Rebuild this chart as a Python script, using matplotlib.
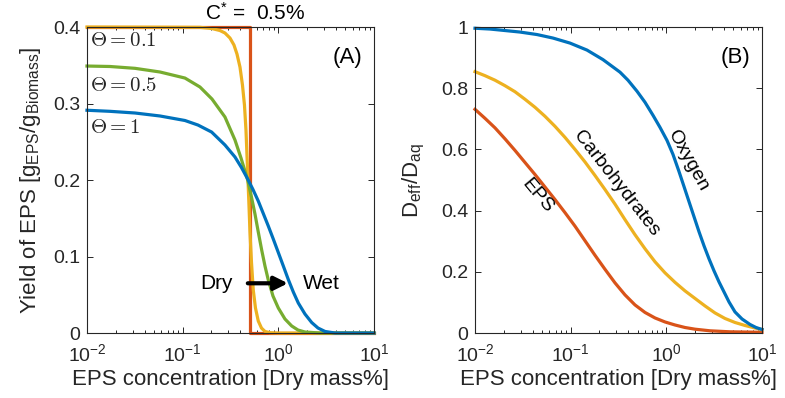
import matplotlib
matplotlib.use("Agg")
import matplotlib.pyplot as plt

# ---------------- data ----------------
# Panel A: yield of EPS vs EPS concentration
red_x = [0.01, 0.5, 0.5, 10]
red_y = [0.4, 0.4, 0.0, 0.0]

th01_x = [0.01, 0.1517, 0.2028, 0.2456, 0.2768, 0.3125, 0.3439, 0.3698, 0.3975, 0.4220,
          0.4428, 0.4592, 0.4726, 0.4818, 0.4935, 0.5055, 0.5241, 0.5473, 0.5771, 0.6173,
          0.6668, 0.7255, 0.8185, 1.0, 10]
th01_y = [0.400, 0.3996, 0.398, 0.3954, 0.3922, 0.3856, 0.3765, 0.3647, 0.3477, 0.3242,
          0.298, 0.2654, 0.2261, 0.200, 0.1673, 0.132, 0.0928, 0.0562, 0.0327, 0.0157,
          0.0065, 0.002, 0.0004, 0.0, 0.0]

th05_x = [0.01, 0.0174, 0.0318, 0.058, 0.1057, 0.1517, 0.2026, 0.2768, 0.3524, 0.4073,
          0.4786, 0.524, 0.5702, 0.6175, 0.6702, 0.7255, 0.7856, 0.8794, 1.0, 1.174,
          1.380, 1.606, 1.90, 2.72, 10]
th05_y = [0.349, 0.3484, 0.346, 0.3412, 0.3333, 0.3216, 0.3059, 0.2824, 0.2523, 0.2288,
          0.200, 0.1778, 0.1556, 0.132, 0.1085, 0.0876, 0.0693, 0.0484, 0.0327, 0.0183,
          0.0092, 0.0039, 0.0013, 0.0, 0.0]

th1_x = [0.01, 0.0174, 0.0318, 0.058, 0.1057, 0.1445, 0.2009, 0.2768, 0.3524, 0.412,
         0.4786, 0.5434, 0.6175, 0.6966, 0.7856, 0.8857, 1.0, 1.128, 1.272, 1.435,
         1.618, 1.90, 2.234, 2.60, 3.08, 3.91, 10]
th1_y = [0.2912, 0.2898, 0.2876, 0.2837, 0.2778, 0.2719, 0.2627, 0.2458, 0.2301, 0.2163,
         0.2013, 0.1876, 0.1725, 0.1562, 0.1399, 0.1229, 0.1052, 0.0876, 0.0699, 0.0536,
         0.0392, 0.0248, 0.0137, 0.0065, 0.002, 0.0, 0.0]

# Panel B: Deff/Daq vs EPS concentration
oxy_x = [0.01, 0.01435, 0.0206, 0.0295, 0.0445, 0.0654, 0.0984, 0.1482, 0.2178, 0.3278,
         0.3973, 0.4935, 0.5984, 0.7255, 0.8585, 1.016, 1.174, 1.356, 1.530, 1.725,
         1.946, 2.195, 2.475, 2.792, 3.149, 3.551, 4.006, 4.519, 5.221, 6.178,
         7.49, 8.655, 10]
oxy_y = [0.996, 0.9934, 0.9885, 0.9836, 0.9754, 0.9639, 0.9475, 0.9246, 0.8934, 0.8525,
         0.8262, 0.7902, 0.7541, 0.7115, 0.6721, 0.6295, 0.5836, 0.5279, 0.4787, 0.4295,
         0.3803, 0.3311, 0.2852, 0.2426, 0.2033, 0.1672, 0.1344, 0.1016, 0.0689, 0.0459,
         0.0279, 0.018, 0.0115]

carb_x = [0.01, 0.01272, 0.01618, 0.0206, 0.02619, 0.0333, 0.04238, 0.05392, 0.06859, 0.08725,
          0.111, 0.1412, 0.1796, 0.2285, 0.2906, 0.3697, 0.4703, 0.5984, 0.7613, 0.9683,
          1.232, 1.567, 1.993, 2.536, 3.226, 4.104, 5.221, 6.641, 8.449, 10]
carb_y = [0.8541, 0.841, 0.8262, 0.8082, 0.7885, 0.7639, 0.7377, 0.7082, 0.6754, 0.6393,
          0.600, 0.559, 0.5148, 0.4689, 0.4213, 0.3705, 0.3213, 0.2754, 0.2328, 0.1967,
          0.1656, 0.1377, 0.1131, 0.0885, 0.0656, 0.0475, 0.0344, 0.0246, 0.0164, 0.0115]

eps_x = [0.01, 0.01272, 0.01618, 0.0206, 0.02619, 0.0333, 0.04238, 0.05392, 0.06859, 0.08725,
         0.111, 0.1412, 0.1796, 0.2285, 0.2906, 0.3697, 0.4703, 0.5984, 0.7613, 0.9683,
         1.232, 1.567, 1.993, 2.859, 4.628, 10]
eps_y = [0.7311, 0.7016, 0.6705, 0.6344, 0.5967, 0.5574, 0.518, 0.477, 0.4361, 0.3934,
         0.3492, 0.3016, 0.2541, 0.2082, 0.1639, 0.1246, 0.0918, 0.0672, 0.0492, 0.0361,
         0.0262, 0.018, 0.0125, 0.0072, 0.0039, 0.0023]

xticks = [0.01, 0.1, 1, 10]
xticklabels = [r'$10^{-2}$', r'$10^{-1}$', r'$10^{0}$', r'$10^{1}$']
yticksA = [0, 0.1, 0.2, 0.3, 0.4]
yticklabelsA = ['0', '0.1', '0.2', '0.3', '0.4']
yticksB = [0, 0.2, 0.4, 0.6, 0.8, 1]
yticklabelsB = ['0', '0.2', '0.4', '0.6', '0.8', '1']

# ---------------- style ----------------
plt.rcParams['font.family'] = ['Liberation Sans', 'DejaVu Sans']
plt.rcParams['mathtext.fontset'] = 'custom'
plt.rcParams['mathtext.rm'] = 'Liberation Sans'
plt.rcParams['mathtext.it'] = 'Liberation Sans:italic'
plt.rcParams['mathtext.bf'] = 'Liberation Sans:bold'

BLUE = '#0072BD'
RED = '#D95319'
YEL = '#EDB120'
GRN = '#77AC30'
AXC = '#262626'
LW = 2.3

fig = plt.figure(figsize=(7.85, 3.98), dpi=100)
axA = fig.add_axes([0.1108, 0.1633, 0.3656, 0.7688])
axB = fig.add_axes([0.6051, 0.1633, 0.3656, 0.7688])


def style(ax, yt, ytl, ylim):
    ax.set_xscale('log')
    ax.set_xlim(0.01, 10)
    ax.set_ylim(*ylim)
    ax.set_xticks(xticks)
    ax.set_xticklabels(xticklabels)
    ax.set_yticks(yt)
    ax.set_yticklabels(ytl)
    ax.tick_params(which='both', direction='in', top=True, right=True,
                   color=AXC, labelcolor=AXC, labelsize=14, width=0.7)
    ax.tick_params(which='major', length=4)
    ax.tick_params(axis='x', which='major', pad=7)
    ax.tick_params(axis='y', which='major', pad=5)
    ax.tick_params(which='minor', length=2)
    for s in ax.spines.values():
        s.set_color(AXC)
        s.set_linewidth(0.8)
    ax.set_xlabel('EPS concentration [Dry mass%]', fontsize=16, color=AXC, labelpad=3)


# ---------------- panel A ----------------
axA.plot(red_x, red_y, color=RED, lw=LW, clip_on=False)
axA.plot(th01_x, th01_y, color=YEL, lw=LW, clip_on=False)
axA.plot(th05_x, th05_y, color=GRN, lw=LW, clip_on=False)
axA.plot(th1_x, th1_y, color=BLUE, lw=LW, clip_on=False)
style(axA, yticksA, yticklabelsA, (0, 0.4))
axA.set_ylabel(r'Yield of EPS [g$_{\mathrm{EPS}}$/g$_{\mathrm{Biomass}}$]',
               fontsize=16, color=AXC, labelpad=7)

for lab, yy in [(r'$\Theta = 0.1$', 0.382), (r'$\Theta = 0.5$', 0.324), (r'$\Theta = 1$', 0.269)]:
    axA.text(0.0108, yy, lab, fontsize=15, math_fontfamily='cm', ha='left', va='center', color=AXC)

axA.text(0.96, 0.9, '(A)', transform=axA.transAxes, fontsize=16, ha='right', va='center', color='k')
axA.text(0.585, 1.01, r'C$^{*}$ =  0.5%', transform=axA.transAxes,
         fontsize=15, ha='center', va='bottom', color='k')

axA.annotate('', xy=(1.26, 0.065), xytext=(0.48, 0.065),
             arrowprops=dict(arrowstyle='-|>', color='k', lw=3, mutation_scale=20,
                             shrinkA=0, shrinkB=0))
axA.text(0.336, 0.065, 'Dry', fontsize=15, ha='right', va='center', color='k')
axA.text(1.81, 0.065, 'Wet', fontsize=15, ha='left', va='center', color='k')

# ---------------- panel B ----------------
axB.plot(eps_x, eps_y, color=RED, lw=LW, clip_on=False)
axB.plot(carb_x, carb_y, color=YEL, lw=LW, clip_on=False)
axB.plot(oxy_x, oxy_y, color=BLUE, lw=LW, clip_on=False)
style(axB, yticksB, yticklabelsB, (0, 1))
axB.set_ylabel(r'D$_{\mathrm{eff}}$/D$_{\mathrm{aq}}$', fontsize=16, color=AXC, labelpad=10)

axB.text(0.96, 0.9, '(B)', transform=axB.transAxes, fontsize=16, ha='right', va='center', color='k')
axB.text(1.68, 0.564, 'Oxygen', fontsize=14, rotation=-61, ha='center', va='center',
         rotation_mode='anchor', color='k')
axB.text(0.298, 0.487, 'Carbohydrates', fontsize=14, rotation=-52, ha='center', va='center',
         rotation_mode='anchor', color='k')
axB.text(0.0445, 0.449, 'EPS', fontsize=14, rotation=-50, ha='center', va='center',
         rotation_mode='anchor', color='k')

fig.savefig('out.png', dpi=100)
